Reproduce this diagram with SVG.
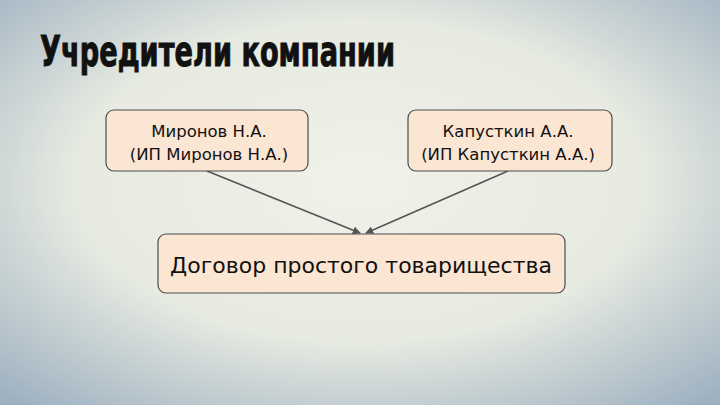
<svg xmlns="http://www.w3.org/2000/svg" width="720" height="405" viewBox="0 0 720 405">
<defs>
<radialGradient id="bg" cx="0.5" cy="0.45" r="0.72">
<stop offset="0" stop-color="#f1f2e9"/>
<stop offset="0.55" stop-color="#e6eae1"/>
<stop offset="1" stop-color="#9fb1c1"/>
</radialGradient>
<marker id="arr" viewBox="0 0 10 10" refX="9" refY="5" markerWidth="8" markerHeight="8" orient="auto" markerUnits="userSpaceOnUse">
<path d="M0,0 L10,5 L0,10 z" fill="#555"/>
</marker>
<style>
.box{fill:#fbe5d3;stroke:#4d4d4d;stroke-width:1.2}
.t{font-family:"DejaVu Sans","Noto Sans",sans-serif;fill:#111;text-anchor:middle}
.c{stroke:#555;stroke-width:1.6;fill:none;marker-end:url(#arr)}
</style>
</defs>
<rect width="720" height="405" fill="url(#bg)"/>
<text transform="translate(40,66) scale(1,1.2)" x="0" y="0" font-family="'DejaVu Sans Condensed','Liberation Sans Narrow','DejaVu Sans',sans-serif" font-weight="bold" font-size="36" textLength="355" lengthAdjust="spacingAndGlyphs" fill="#111" stroke="#111" stroke-width="0.8">Учредители компании</text>
<g id="connectors">
<line class="c" x1="207" y1="171" x2="360" y2="233"/>
<line class="c" x1="508" y1="171" x2="366" y2="233"/>
</g>
<g id="n1">
<rect class="box" x="106" y="110" width="202" height="61" rx="8"/>
<text class="t" x="209" y="137" font-size="16.5">Миронов Н.А.</text>
<text class="t" x="209" y="160" font-size="16.5">(ИП Миронов Н.А.)</text>
</g>
<g id="n2">
<rect class="box" x="408" y="110" width="204" height="61" rx="8"/>
<text class="t" x="508" y="137" font-size="16.5">Капусткин А.А.</text>
<text class="t" x="508" y="160" font-size="16.5">(ИП Капусткин А.А.)</text>
</g>
<g id="n3">
<rect class="box" x="158" y="234" width="407" height="59" rx="8"/>
<text class="t" x="361" y="273" font-size="22">Договор простого товарищества</text>
</g>
</svg>
